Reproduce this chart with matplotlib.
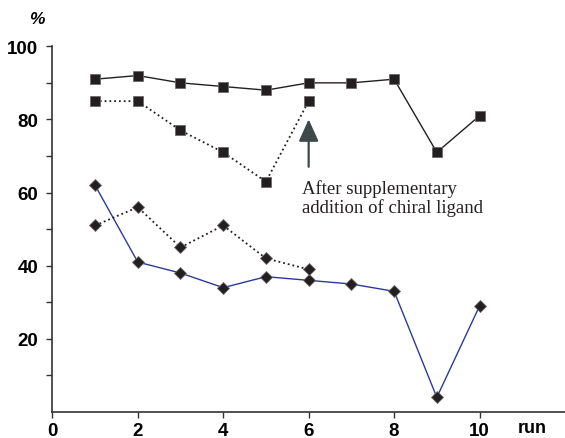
import matplotlib
matplotlib.use("Agg")
import matplotlib.pyplot as plt

plt.rcParams.update({"font.family": "Liberation Sans", "font.size": 13.5,
                     "font.weight": "bold"})

# ── data ──────────────────────────────────────────────────────────────
runs_full = [1, 2, 3, 4, 5, 6, 7, 8, 9, 10]
runs_part = [1, 2, 3, 4, 5, 6]
sq_solid = [91, 92, 90, 89, 88, 90, 90, 91, 71, 81]
sq_dotted = [85, 85, 77, 71, 63, 85]
dm_solid = [62, 41, 38, 34, 37, 36, 35, 33, 4, 29]
dm_dotted = [51, 56, 45, 51, 42, 39]
x_ticks = [0, 2, 4, 6, 8, 10]
y_major = [20, 40, 60, 80, 100]
y_minor = [10, 30, 50, 70, 90]

MK = "#231f20"
EDGE = "#6a6a6a"
BLUE = "#2b3a9a"

fig = plt.figure(figsize=(5.65, 4.39), dpi=100)
ax = fig.add_axes([0.0926, 0.0592, 0.9074, 0.8331])

ax.plot(runs_full, sq_solid, "-", color=MK, lw=1.0, marker="s", ms=7,
        mfc=MK, mec=EDGE, mew=0.6, zorder=3)
ax.plot(runs_part, sq_dotted, ":", color=MK, lw=1.3, marker="s", ms=7,
        mfc=MK, mec=EDGE, mew=0.6, zorder=3)
ax.plot(runs_full, dm_solid, "-", color=BLUE, lw=1.0, marker="D", ms=6.5,
        mfc=MK, mec=EDGE, mew=0.6, zorder=3)
ax.plot(runs_part, dm_dotted, ":", color=MK, lw=1.3, marker="D", ms=6.5,
        mfc=MK, mec=EDGE, mew=0.6, zorder=3)

# annotation arrow
ax.annotate("", xy=(6, 80.8), xytext=(6, 66.3),
            arrowprops=dict(arrowstyle="-|>,head_width=0.45,head_length=1.0",
                            color="#3d4848", lw=1.6))
ax.text(5.84, 63.8, "After supplementary\naddition of chiral ligand",
        family="Liberation Serif", fontweight="normal", fontsize=13.5,
        va="top", ha="left", color=MK, linespacing=1.1)

ax.set_xlim(0, 12)
ax.set_ylim(0, 100)
ax.set_xticks(x_ticks)
ax.set_yticks(y_major)
ax.set_yticks(y_minor, minor=True)
ax.tick_params(axis="y", which="both", direction="out", length=4, width=1,
               color="#333", pad=6)
ax.tick_params(axis="x", direction="out", length=4, width=1, color="#333", pad=3)

for s in ["top", "right"]:
    ax.spines[s].set_visible(False)
for s in ["left", "bottom"]:
    ax.spines[s].set_linewidth(1.2)
    ax.spines[s].set_color("#333")

fig.text(0.066, 0.955, "%", fontsize=12.5, fontstyle="italic", ha="center", va="center")
fig.text(0.942, 0.025, "run", fontsize=13, ha="center", va="center")

fig.savefig("out.png", dpi=100)
